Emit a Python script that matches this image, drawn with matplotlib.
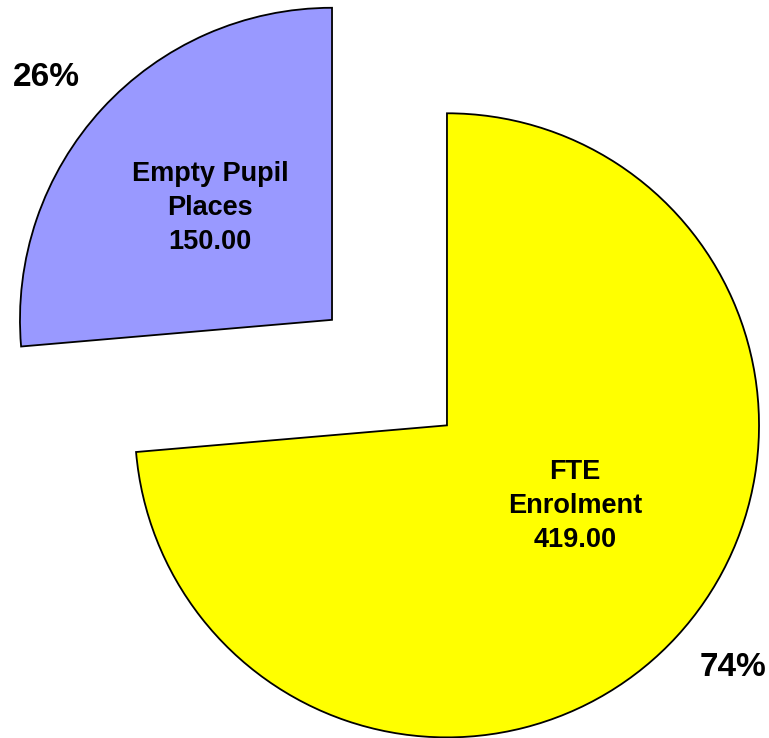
import numpy as np
import matplotlib.pyplot as plt

plt.rcParams['font.family'] = ['Liberation Sans', 'DejaVu Sans']

# data
names = ["FTE\nEnrolment", "Empty Pupil\nPlaces"]
values = [419.00, 150.00]
colors = ["#FFFF00", "#9999FF"]
explode = [0.25, 0.25]

fig = plt.figure(figsize=(7.69, 7.38), dpi=100)
ax = fig.add_axes([0, 0, 1, 1])

wedges, _ = ax.pie(values, colors=colors, explode=explode, startangle=90,
                   counterclock=False, radius=1.0,
                   wedgeprops=dict(edgecolor="black", linewidth=1.3))

total = sum(values)
inner_dist = [0.485, 0.53]
inner_shift = [10.5, 0]  # degrees, nudges the big slice label to the right
for w, name, v, d, s in zip(wedges, names, values, inner_dist, inner_shift):
    mid = np.deg2rad((w.theta1 + w.theta2) / 2 + s)
    cx, cy = w.center
    ax.text(cx + d * np.cos(mid), cy + d * np.sin(mid),
            f"{name}\n{v:.2f}", ha="center", va="center",
            fontsize=19.5, fontweight="bold", linespacing=1.4)
    mid0 = np.deg2rad((w.theta1 + w.theta2) / 2 + 2.3)
    ax.text(cx + 1.2 * np.cos(mid0), cy + 1.2 * np.sin(mid0),
            f"{v / total * 100:.0f}%", ha="center", va="center",
            fontsize=24, fontweight="bold")

# keep the pie where it sits in the original frame
ax.set_xlim(-1.248, 1.216)
ax.set_ylim(-1.171, 1.194)
ax.set_aspect("equal")
ax.axis("off")

fig.savefig("out.png", dpi=100)
